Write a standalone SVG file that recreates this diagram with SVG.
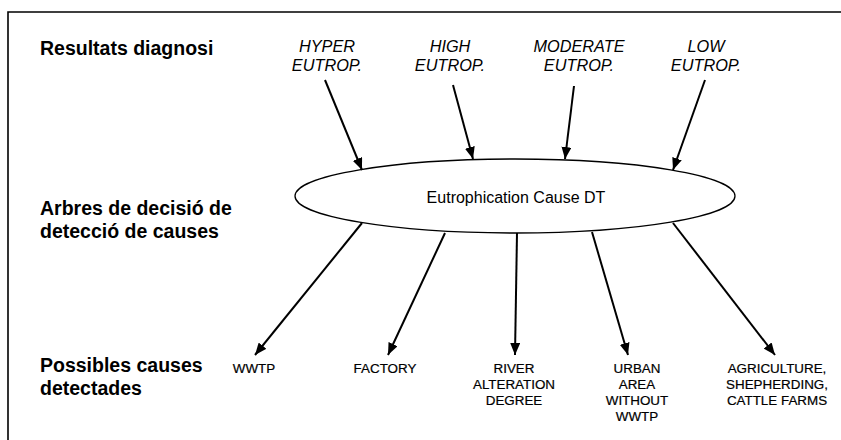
<svg xmlns="http://www.w3.org/2000/svg" width="841" height="440" viewBox="0 0 841 440">
  <style>
    .frame { fill: none; stroke: #000; stroke-width: 1.6; }
    .row { font-family: "Liberation Sans", Arial, sans-serif; font-weight: bold; font-size: 19.5px; fill: #000; }
    .level { font-family: "Liberation Sans", Arial, sans-serif; font-style: italic; font-size: 16.3px; fill: #000; text-anchor: middle; }
    .cause { font-family: "Liberation Sans", Arial, sans-serif; font-size: 13.4px; fill: #000; stroke: #000; stroke-width: 0.2; text-anchor: middle; }
    .dt { font-family: "Liberation Sans", Arial, sans-serif; font-size: 16px; fill: #000; text-anchor: middle; }
    .shape { fill: #fff; stroke: #000; stroke-width: 1.3; }
    .edge { stroke: #000; stroke-width: 2; fill: none; marker-end: url(#head); }
  </style>
  <defs>
    <marker id="head" viewBox="0 0 12 10" refX="12" refY="5" markerWidth="6" markerHeight="5" orient="auto" markerUnits="strokeWidth">
      <path d="M0,0 L12,5 L0,10 z" fill="#000"/>
    </marker>
  </defs>
  <rect width="841" height="440" fill="#fff"/>
  <!-- outer frame, open to the right and bottom -->
  <path class="frame" d="M8,445 L8,12 L850,12"/>

  <!-- row titles -->
  <g id="row-results">
    <text class="row" x="40" y="55">Resultats diagnosi</text>
  </g>
  <g id="row-trees">
    <text class="row" x="40" y="215">Arbres de decisió de</text>
    <text class="row" x="40" y="238">detecció de causes</text>
  </g>
  <g id="row-causes">
    <text class="row" x="40" y="372">Possibles causes</text>
    <text class="row" x="40" y="395">detectades</text>
  </g>

  <!-- eutrophication levels -->
  <g id="hyper">
    <text class="level" x="327" y="52">HYPER</text>
    <text class="level" x="327" y="71">EUTROP.</text>
  </g>
  <g id="high">
    <text class="level" x="450" y="52">HIGH</text>
    <text class="level" x="450" y="71">EUTROP.</text>
  </g>
  <g id="moderate">
    <text class="level" x="579" y="52">MODERATE</text>
    <text class="level" x="579" y="71">EUTROP.</text>
  </g>
  <g id="low">
    <text class="level" x="706" y="52">LOW</text>
    <text class="level" x="706" y="71">EUTROP.</text>
  </g>

  <!-- decision tree -->
  <g id="cause-dt">
    <ellipse class="shape" cx="515" cy="196" rx="220" ry="37"/>
    <text class="dt" x="516" y="203">Eutrophication Cause DT</text>
  </g>

  <!-- detected causes -->
  <g id="wwtp">
    <text class="cause" x="254" y="373">WWTP</text>
  </g>
  <g id="factory">
    <text class="cause" x="385" y="373">FACTORY</text>
  </g>
  <g id="river">
    <text class="cause" x="514" y="373">RIVER</text>
    <text class="cause" x="514" y="389">ALTERATION</text>
    <text class="cause" x="514" y="405">DEGREE</text>
  </g>
  <g id="urban">
    <text class="cause" x="637" y="373">URBAN</text>
    <text class="cause" x="637" y="389">AREA</text>
    <text class="cause" x="637" y="405">WITHOUT</text>
    <text class="cause" x="637" y="421">WWTP</text>
  </g>
  <g id="agriculture">
    <text class="cause" x="777" y="373">AGRICULTURE,</text>
    <text class="cause" x="777" y="389">SHEPHERDING,</text>
    <text class="cause" x="777" y="405">CATTLE FARMS</text>
  </g>

  <!-- connectors -->
  <g id="connectors">
    <line class="edge" x1="325" y1="80" x2="362" y2="170"/>
    <line class="edge" x1="453" y1="85" x2="473" y2="159"/>
    <line class="edge" x1="574" y1="86" x2="565" y2="159"/>
    <line class="edge" x1="705" y1="80" x2="673" y2="170"/>
    <line class="edge" x1="362" y1="223" x2="255" y2="355"/>
    <line class="edge" x1="445" y1="233" x2="388" y2="355"/>
    <line class="edge" x1="517" y1="233" x2="515" y2="355"/>
    <line class="edge" x1="592" y1="232" x2="628" y2="355"/>
    <line class="edge" x1="673" y1="223" x2="775" y2="355"/>
  </g>
</svg>
